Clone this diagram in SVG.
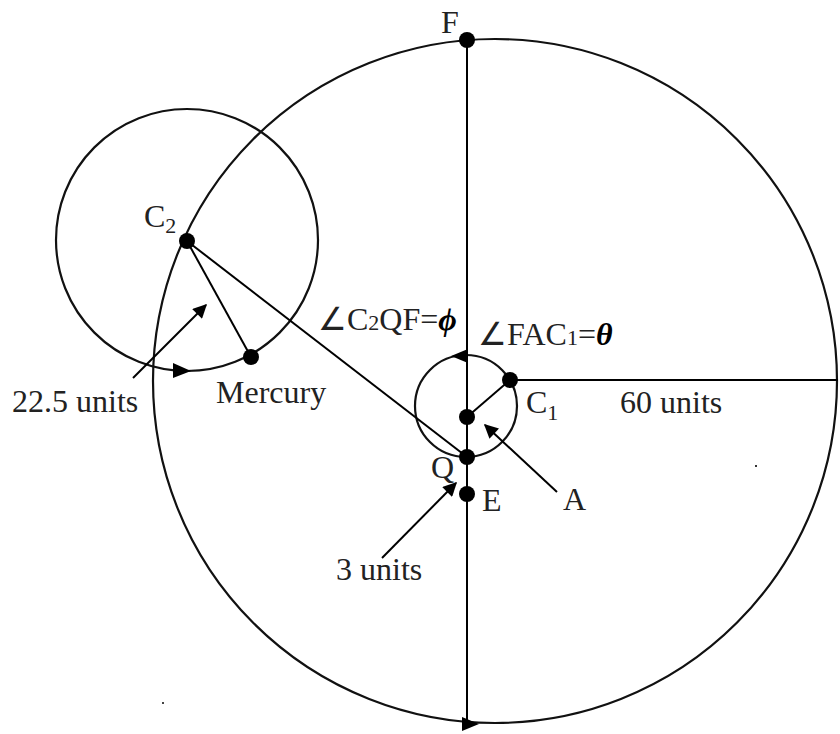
<svg xmlns="http://www.w3.org/2000/svg" width="840" height="734" viewBox="0 0 840 734">
  <style>
    .ln { stroke: #000; stroke-width: 2; fill: none; }
    .cir { stroke: #111; stroke-width: 2.2; fill: none; }
    .dot { fill: #000; }
    .lbl { font-family: "Liberation Serif", "Times New Roman", serif; font-size: 32px; fill: #222; }
    .sub { font-size: 22px; }
    .gk { font-family: "Liberation Serif", "DejaVu Serif", serif; font-weight: bold; font-style: italic; fill: #000; }
    .head { fill: #000; }
  </style>
  <defs>
    <marker id="arr" viewBox="0 0 10 10" refX="9" refY="5" markerWidth="16" markerHeight="14" markerUnits="userSpaceOnUse" orient="auto">
      <path d="M0,0 L10,5 L0,10 z" fill="#000"/>
    </marker>
  </defs>

  <!-- circles -->
  <g id="deferent">
    <circle class="cir" cx="495" cy="381" r="342"/>
    <polygon class="head" points="479,724 462,717 462,731"/>
  </g>
  <g id="epicycle">
    <circle class="cir" cx="187" cy="240" r="131"/>
    <polygon class="head" points="191,371 173,363 173,378"/>
  </g>
  <g id="small-circle">
    <circle class="cir" cx="466" cy="406" r="51"/>
    <polygon class="head" points="451,356 468,349 468,363"/>
  </g>

  <!-- connectors -->
  <g id="connectors">
    <line class="ln" x1="467" y1="40" x2="467" y2="724" stroke-width="2.4"/>
    <line class="ln" x1="510" y1="380" x2="838" y2="380" stroke-width="2.4"/>
    <line class="ln" x1="467" y1="417" x2="510" y2="380"/>
    <line class="ln" x1="187" y1="241" x2="467" y2="457"/>
    <line class="ln" x1="187" y1="241" x2="251" y2="357"/>
    <line class="ln" x1="133" y1="378" x2="206" y2="305" marker-end="url(#arr)"/>
    <line class="ln" x1="382" y1="558" x2="456" y2="483" marker-end="url(#arr)"/>
    <line class="ln" x1="557" y1="492" x2="485" y2="425" marker-end="url(#arr)"/>
  </g>

  <!-- points -->
  <g id="F"><circle class="dot" cx="467" cy="40" r="8"/><text class="lbl" x="441" y="33">F</text></g>
  <g id="C2"><circle class="dot" cx="187" cy="241" r="8"/><text class="lbl" x="144" y="227">C<tspan class="sub" dy="6">2</tspan></text></g>
  <g id="Mercury"><circle class="dot" cx="251" cy="357" r="8"/><text class="lbl" x="216" y="403">Mercury</text></g>
  <g id="C1"><circle class="dot" cx="510" cy="380" r="8"/><text class="lbl" x="526" y="413">C<tspan class="sub" dy="7">1</tspan></text></g>
  <g id="A"><circle class="dot" cx="467" cy="417" r="8"/><text class="lbl" x="563" y="510">A</text></g>
  <g id="Q"><circle class="dot" cx="467" cy="457" r="8"/><text class="lbl" x="431" y="478">Q</text></g>
  <g id="E"><circle class="dot" cx="467" cy="494" r="8"/><text class="lbl" x="482" y="511">E</text></g>

  <!-- labels -->
  <g id="labels">
    <text class="lbl" x="318" y="330">∠C<tspan class="sub" font-size="25px">2</tspan>QF=<tspan class="gk">ϕ</tspan></text>
    <text class="lbl" x="478" y="345">∠FAC<tspan class="sub" font-size="23px">1</tspan>=<tspan class="gk">θ</tspan></text>
    <text class="lbl" x="620" y="413">60 units</text>
    <text class="lbl" x="12" y="412">22.5 units</text>
    <text class="lbl" x="336" y="580">3 units</text>
  </g>

  <!-- stray specks -->
  <rect x="755" y="465" width="2" height="2" fill="#333"/>
  <rect x="162" y="702" width="2" height="2" fill="#444"/>
</svg>
